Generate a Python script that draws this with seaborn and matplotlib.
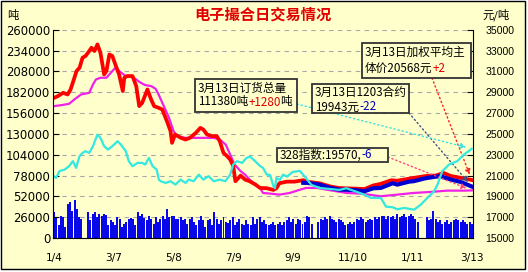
import numpy as np
import matplotlib
matplotlib.use("Agg")
import matplotlib.pyplot as plt
from matplotlib.patches import Rectangle
import seaborn as sns

W, H = 528, 272
CJK = ["Noto Sans CJK SC", "DejaVu Sans"]

# ---------------- data ----------------
x_tick_pos = [0, 40, 80, 120, 160, 200, 240, 280]
x_tick_labels = ["1/4", "3/7", "5/8", "7/9", "9/9", "11/10", "1/11", "3/13"]

# weighted average main price (right axis, yuan/ton)
red_days = [0, 2.5, 6, 9, 11, 15, 17, 19, 21, 23.5, 25, 27, 29, 31, 33.5, 35, 37, 39, 41, 43.5,
            46, 47, 49, 52.5, 55, 57, 59, 62.5, 65, 67, 70, 72.5, 76, 78, 79, 81, 85, 88, 91, 95,
            98, 100, 102.5, 106, 109, 111, 113.5, 116, 118, 120, 121.5, 125, 128, 131, 135, 138,
            142.5, 147, 149, 151, 156, 161, 167, 170, 178, 185, 191, 200, 208, 214, 219, 226, 230,
            238, 241, 249, 256, 261, 266, 272.5, 280]
red_price = [28461, 28625, 28942, 28779, 29260, 31028, 31346, 32307, 32471, 32952, 33269, 32952,
             33586, 32788, 30702, 31028, 32625, 32471, 31663, 30702, 29105, 30384, 30548, 30548,
             29586, 27663, 27980, 29260, 28298, 27663, 27500, 27336, 26057, 25259, 24134, 24932,
             24615, 24452, 24615, 25096, 25577, 25413, 24932, 24779, 24779, 24298, 23173, 22856,
             22529, 21923, 20452, 20990, 20606, 20452, 20125, 19808, 19779, 19615, 19779, 20260,
             20413, 20413, 20548, 20400, 20250, 19950, 19800, 19750, 19700, 20050, 20200, 20550,
             20500, 20700, 20770, 20950, 21000, 21250, 20950, 20780, 20568]

# 328 index (right axis)
idx_days = [0, 5, 10, 13.5, 18, 23.5, 26, 28, 31, 35, 38, 41, 45, 48, 51, 55, 58, 61, 65, 68, 70,
            73.5, 77, 80, 82.5, 88, 95, 101, 107, 111, 115, 118, 121, 125, 128, 131, 135, 138, 140,
            145, 151, 158, 165, 169, 176, 182.5, 189, 196, 205, 211, 219, 230, 241, 252.5, 263.5,
            275, 280]
idx_value = [27663, 27760, 27884, 28298, 28779, 28942, 29740, 30221, 30384, 30384, 30865, 31346,
             30865, 30548, 30548, 30221, 29904, 29683, 29586, 29327, 28779, 27663, 26538, 25259,
             24779, 24615, 24615, 24615, 24615, 24452, 23971, 23009, 22048, 21413, 21086, 20606,
             20125, 19808, 19327, 19260, 19163, 19327, 19644, 19808, 19808, 19644, 19490, 19327,
             19260, 19163, 19010, 19163, 19327, 19423, 19548, 19548, 19570]

# 1203 contract price (right axis)
c1203_days = [167, 170, 178, 185, 191, 200, 208, 214, 219, 227, 230, 238, 241, 249, 256, 259,
              266, 272.5, 280]
c1203_price = [20300, 20288, 20125, 19808, 19644, 19615, 19490, 19779, 19808, 20260, 20125,
               20413, 20452, 20740, 20894, 20933, 20606, 20385, 19943]

# total order volume (left axis, tons)
order_days = [0, 1.3, 3.5, 7, 10, 12.5, 14.7, 17, 19, 21, 23.5, 26, 29, 31, 33.5, 36, 39, 42.5,
              44.7, 48, 50, 52.5, 56, 59, 61, 63.5, 66, 68.7, 70.2, 71.3, 74.7, 78, 81.3, 84.7,
              88, 90.2, 93.5, 97, 100, 103.5, 107, 111, 114.7, 118, 120, 122.5, 126, 129, 131.3,
              134.7, 138, 140, 142.5, 144.7, 147, 148, 149, 151.3, 153.5, 156, 160, 164.7, 168,
              172.5, 178, 184.7, 191.3, 195.8, 202.5, 208, 212.5, 219, 222.5, 227, 230, 234.7,
              241.3, 245.8, 250.2, 254.7, 257, 260.2, 264.7, 270.2, 274.7, 280]
order_total = [76625, 75000, 83375, 85375, 89625, 95875, 87500, 102125, 106250, 108375, 106250,
               114625, 129125, 125000, 114625, 110375, 114625, 120875, 116625, 108375, 95875,
               89625, 93750, 93750, 91625, 100000, 89625, 85375, 72875, 70875, 68750, 70875,
               66625, 72875, 68750, 72875, 70875, 79125, 72875, 77125, 70875, 72875, 70875,
               79125, 91625, 95875, 93750, 100000, 101625, 95875, 90000, 87500, 79125, 78750,
               64625, 62125, 75000, 72500, 79125, 76625, 82500, 83750, 76625, 66250, 62500,
               61250, 60000, 62125, 57875, 54125, 50000, 50000, 39125, 38375, 35875, 37500,
               35375, 41625, 50000, 58375, 66625, 83375, 91625, 95875, 104125, 111380]

# daily volume (left axis, thousand tons)
daily_volume_k = [33, 26, 16, 28, 26, 14, 43, 45, 34, 47, 36, 26, 24, 0, 0,
                  32, 22, 30, 32, 26, 30, 28, 30, 29, 16, 22, 20, 16, 26, 24, 14, 18, 20, 24, 25,
                  24, 16, 33, 28, 30, 25, 22, 28, 24, 18, 26, 20, 24, 28, 24, 36, 26, 27, 28, 24,
                  24, 26, 22, 24, 18, 24, 26, 20, 16, 22, 28, 22, 14, 22, 24, 16, 32, 24, 18, 22,
                  26, 20, 19, 22, 26, 16, 20, 24, 18, 16, 22, 18, 16, 26, 18, 24, 26,
                  20, 22, 18, 16, 18, 20, 16, 18, 20, 16, 20, 22, 26, 20, 24, 18, 24, 22, 18, 20,
                  28, 26, 18, 0, 0,
                  20, 24, 22, 26, 24, 28, 24, 22, 20, 24, 22, 20, 16, 18, 20, 18, 20, 24, 22, 26,
                  24, 20, 22, 24, 22, 26, 24, 26, 28, 27, 24, 28, 26, 28, 24, 30, 26, 28, 30, 26,
                  28, 30, 28, 24, 20, 0, 0, 0,
                  26, 22, 24, 34, 24, 20, 22, 18, 20, 22, 18, 20, 22, 24, 22, 20, 22, 20, 18, 20, 18]

# ---------------- figure ----------------
fig = plt.figure(figsize=(W / 100, H / 100), dpi=100, facecolor="white")
fig.patches.append(Rectangle((0.5 / W, (H - 268.5) / H), 524 / W, 268 / H,
                             transform=fig.transFigure, facecolor="#ffffcc",
                             edgecolor="black", lw=1.0, zorder=-10))

ax = fig.add_axes([53 / W, (H - 238) / H, 420 / W, (238 - 29.7) / H])
ax2 = ax.twinx()
ax.set_zorder(2)
ax2.set_zorder(1)
ax.patch.set_visible(False)
ax2.patch.set_visible(False)

# right-axis lines
sns.lineplot(x=idx_days, y=idx_value, ax=ax2, color="#f020e8", lw=1.6, sort=False)
sns.lineplot(x=red_days, y=red_price, ax=ax2, color="#ff0000", lw=2.7, sort=False)
sns.lineplot(x=c1203_days, y=c1203_price, ax=ax2, color="#0000d0", lw=3.0, sort=False)

# left-axis bars + line
n = len(daily_volume_k)
bar_pos = np.linspace(0, 280, n)
bar_vals = np.array(daily_volume_k) * 1000
ax.bar(bar_pos, bar_vals, width=(280 / (n - 1)) * 0.88, color="#0808e8", linewidth=0)
sns.lineplot(x=order_days, y=order_total, ax=ax, color="#33e8e0", lw=1.6, sort=False)

ax.set_xlim(-0.8, 280.8)
ax.set_ylim(0, 260000)
ax2.set_ylim(15000, 35000)
lt = list(range(0, 260001, 26000))
rt = list(range(15000, 35001, 2000))
ax.set_yticks(lt)
ax.set_yticklabels([str(v) for v in lt], fontsize=8.4, family="DejaVu Sans")
ax2.set_yticks(rt)
ax2.set_yticklabels([str(v) for v in rt], fontsize=7.6, family="Liberation Sans")
ax.set_xticks(x_tick_pos)
ax.set_xticklabels(x_tick_labels, fontsize=7.6, family="DejaVu Sans")
for a in (ax, ax2):
    a.set_xlabel("")
    a.set_ylabel("")
ax.tick_params(axis="y", direction="in", length=4, pad=2, colors="black")
ax.tick_params(axis="x", length=0, pad=11)
ax2.tick_params(axis="y", direction="in", length=4, pad=9, colors="black")

for s in ("top", "right"):
    ax.spines[s].set_visible(False)
for s in ("top", "left", "bottom"):
    ax2.spines[s].set_visible(False)
ax.spines["left"].set_color("black")
ax.spines["bottom"].set_color("black")
ax2.spines["right"].set_color("black")

ax2.yaxis.grid(True, linestyle=(0, (4, 4)), color="#a8a8a8", lw=0.8)
ax2.set_axisbelow(True)
ax.grid(False)

# ---------------- arrows ----------------
def fp(x, y):
    return (x, H - y)

arrow_kw = dict(shrinkA=0, shrinkB=4, mutation_scale=8, lw=1.0, linestyle=(0, (1, 2)))
ax.annotate("", xy=(order_days[-1], order_total[-1]), xytext=fp(297, 104),
            textcoords="figure pixels",
            arrowprops=dict(arrowstyle="-|>", color="#40e0e0", **arrow_kw))
ax2.annotate("", xy=(c1203_days[-1], c1203_price[-1]), xytext=fp(409, 113),
             textcoords="figure pixels",
             arrowprops=dict(arrowstyle="-|>", color="#405080", **arrow_kw))
ax2.annotate("", xy=(red_days[-1], red_price[-1]), xytext=fp(432, 78),
             textcoords="figure pixels",
             arrowprops=dict(arrowstyle="-|>", color="#ff2020", **arrow_kw))
ax2.annotate("", xy=(idx_days[-1], idx_value[-1]), xytext=fp(388, 157),
             textcoords="figure pixels",
             arrowprops=dict(arrowstyle="-|>", color="#ff4080", **arrow_kw))

# ---------------- text boxes ----------------
fig.canvas.draw()
renderer = fig.canvas.get_renderer()


def box(x0, y0, x1, y1):
    fig.patches.append(Rectangle((x0 / W, (H - y1) / H), (x1 - x0) / W, (y1 - y0) / H,
                                 transform=fig.transFigure, facecolor="#ffffcc",
                                 edgecolor="#333333", lw=1.3, zorder=5))


def rich(x, y, parts, size=8.4):
    for s, c in parts:
        t = fig.text(x / W, (H - y) / H, s, color=c, fontsize=size, family=CJK,
                     ha="left", va="center", zorder=6)
        x += t.get_window_extent(renderer).width


box(195, 79, 297, 112)
rich(198, 88, [("3月13日订货总量", "black")])
rich(198, 102, [("111380吨", "black"), ("+1280", "#e00000"), ("吨", "black")])

box(312, 84, 409, 113)
rich(315, 93, [("3月13日1203合约", "black")])
rich(315, 107, [("19943元", "black"), ("-22", "#0000c0")])

box(362, 43, 471, 78)
rich(365, 52, [("3月13日加权平均主", "black")])
rich(365, 68, [("体价20568元", "black"), ("+2", "#e00000")])

box(277, 148, 388, 162)
rich(280, 155, [("328指数:19570,", "black"), ("-6", "#0000c0")])

# titles / units
fig.text(263 / W, (H - 15) / H, "电子撮合日交易情况", color="#e00000", fontsize=11,
         fontweight="bold", family=CJK, ha="center", va="center")
fig.text(7 / W, (H - 15) / H, "吨", fontsize=8.2, family=CJK, ha="left", va="center")
fig.text(482 / W, (H - 15) / H, "元/吨", fontsize=8.2, family=CJK, ha="left", va="center")

fig.savefig("out.png", dpi=100, facecolor="white")
